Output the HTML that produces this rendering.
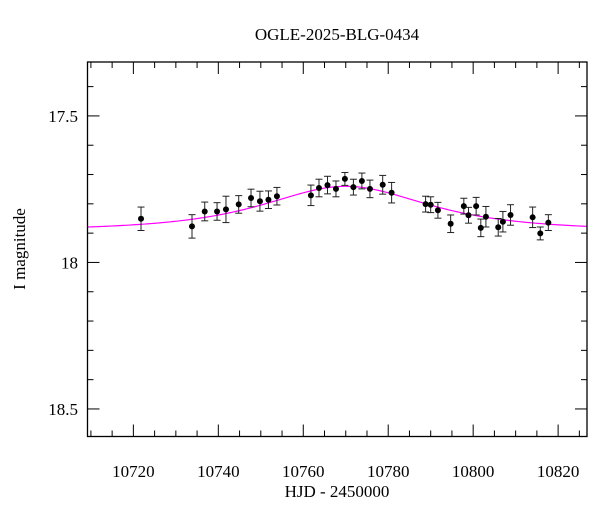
<!DOCTYPE html>
<html><head><meta charset="utf-8"><style>
body{margin:0;background:#fff}
svg{display:block;font-family:"Liberation Serif",serif}
</style></head><body>
<svg id="chart" width="600" height="512" viewBox="0 0 600 512" xmlns="http://www.w3.org/2000/svg">
<text x="337" y="40" text-anchor="middle" font-size="17">OGLE-2025-BLG-0434</text>
<text x="337" y="497" text-anchor="middle" font-size="17">HJD - 2450000</text>
<text transform="translate(25,249) rotate(-90)" text-anchor="middle" font-size="17">I magnitude</text>
<g id="ticks"></g>
<g id="model"></g>
<g id="points"></g>
<rect x="87.5" y="62" width="499.5" height="374.5" fill="none" stroke="#000" stroke-width="1.3"/>
</svg>
<script>
const hjd=[10721.8,10733.8,10736.8,10739.7,10741.8,10744.8,10747.7,10749.8,10751.8,10753.8,10761.8,10763.7,10765.7,10767.7,10769.8,10771.8,10773.8,10775.7,10778.7,10780.8,10788.8,10790.0,10791.7,10794.7,10797.8,10798.9,10800.7,10801.8,10803.0,10805.9,10807.0,10808.8,10814.0,10815.8,10817.7];
const mags=[17.851,17.877,17.826,17.826,17.819,17.802,17.780,17.791,17.786,17.774,17.771,17.746,17.736,17.749,17.715,17.743,17.722,17.749,17.735,17.762,17.801,17.803,17.822,17.868,17.808,17.839,17.808,17.882,17.844,17.880,17.861,17.838,17.846,17.901,17.864];
const errs=[0.040,0.040,0.032,0.030,0.045,0.030,0.030,0.034,0.030,0.030,0.035,0.030,0.030,0.027,0.022,0.027,0.027,0.030,0.032,0.035,0.027,0.027,0.027,0.030,0.027,0.027,0.030,0.030,0.035,0.030,0.035,0.035,0.035,0.022,0.027];
const xTicks=[10720,10740,10760,10780,10800,10820];
const yTicks=[17.5,18,18.5];
const model={t0:10770,tE:24,u0:1.0,fs:0.433,I0:17.89};

const NS="http://www.w3.org/2000/svg";
const X0=87.5,X1=587,Y0=62,Y1=436.5,tMin=10709.2,tMax=10826.8,mTop=17.316,mBot=18.594;
const sx=t=>X0+(t-tMin)/(tMax-tMin)*(X1-X0);
const sy=m=>Y0+(m-mTop)/(mBot-mTop)*(Y1-Y0);
function mk(tag,attrs,parent){const e=document.createElementNS(NS,tag);for(const k in attrs)e.setAttribute(k,attrs[k]);parent.appendChild(e);return e;}
const tg=document.getElementById('ticks'),pg=document.getElementById('points'),mg=document.getElementById('model');
for(let t=10710;t<=10825;t+=5){const x=sx(t);const major=t%20===0;const L=major?12:6;
 const a=mk('line',{x1:x,x2:x,y1:Y1,y2:Y1-L,stroke:'#000','stroke-width':1},tg);
 
 
 const b=mk('line',{x1:x,x2:x,y1:Y0,y2:Y0+L,stroke:'#000','stroke-width':1},tg);
 
 }
xTicks.forEach(t=>{const e=mk('text',{x:sx(t),y:477,'text-anchor':'middle','font-size':17},tg);e.textContent=t;
 
 });
for(let i=174;i<=185;i++){const m=i/100*10;if(m<mTop||m>mBot)continue;const y=sy(m);const major=i%5===0;const L=major?12:6;
 const a=mk('line',{x1:X0,x2:X0+L,y1:y,y2:y,stroke:'#000','stroke-width':1},tg);
 
 
 const b=mk('line',{x1:X1,x2:X1-L,y1:y,y2:y,stroke:'#000','stroke-width':1},tg);
 
 }
yTicks.forEach(m=>{const e=mk('text',{x:78,y:sy(m)+6,'text-anchor':'end','font-size':17},tg);e.textContent=(m===18?'18':m.toFixed(1));
 
 });
let d='';
for(let t=tMin;t<=tMax;t+=0.5){const u=Math.sqrt(model.u0**2+((t-model.t0)/model.tE)**2);const A=(u*u+2)/(u*Math.sqrt(u*u+4));
 const F=model.fs*A+(1-model.fs);const m=model.I0-2.5*Math.log10(F);d+=(d?'L':'M')+sx(t).toFixed(2)+','+sy(m).toFixed(2);}
const path=mk('path',{d:d,fill:'none',stroke:'#ff00ff','stroke-width':1.2},mg);


hjd.forEach((t,i)=>{const x=sx(t),y=sy(mags[i]),ya=sy(mags[i]-errs[i]),yb=sy(mags[i]+errs[i]);
 const g=mk('g',{},pg);
 
 
 mk('line',{x1:x,x2:x,y1:ya,y2:yb,stroke:'#222','stroke-width':1},g);
 mk('line',{x1:x-3.5,x2:x+3.5,y1:ya,y2:ya,stroke:'#222','stroke-width':1},g);
 mk('line',{x1:x-3.5,x2:x+3.5,y1:yb,y2:yb,stroke:'#222','stroke-width':1},g);
 mk('circle',{cx:x,cy:y,r:3,fill:'#000'},g);});
</script>
</body></html>
